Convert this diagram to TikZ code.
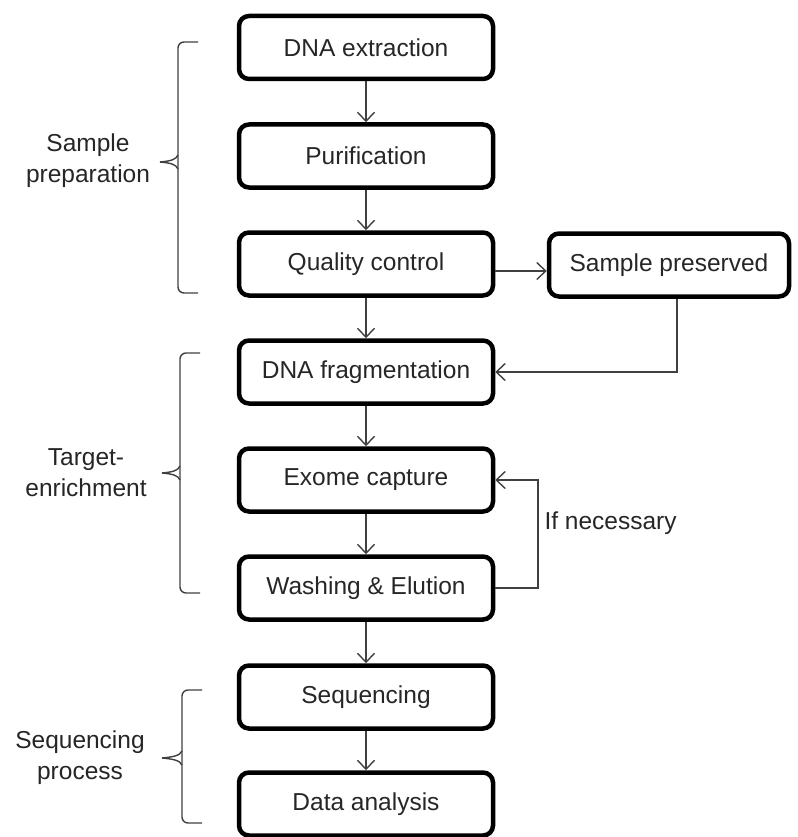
\documentclass[tikz,border=0pt]{standalone}
\usepackage{fontspec}
\setmainfont{Liberation Sans}
\usetikzlibrary{arrows.meta}
\begin{document}
\begin{tikzpicture}[x=1pt,y=-1pt,
  stepbox/.style={draw=black, line width=4.5pt, rounded corners=10pt, minimum width=254pt, minimum height=63pt, inner sep=0pt, font=\fontsize{24.5}{28}\selectfont, text=black!85},
  sidebox/.style={stepbox, minimum width=240pt},
  conn/.style={draw=black!75, line width=1.4pt, -{Straight Barb[length=9pt,width=17pt,line width=1.4pt]}},
  brk/.style={draw=black!75, line width=1.4pt, rounded corners=6pt},
  lbl/.style={align=center, font=\fontsize{24.5}{31}\selectfont, text=black!85}]
\useasboundingbox (0,0) rectangle (797,837);
\node[stepbox] (b1) at (366,47.5) {DNA extraction};
\node[stepbox] (b2) at (366,156) {Purification};
\node[stepbox] (b3) at (366,264) {Quality control};
\node[sidebox] (sp) at (669,265) {Sample preserved};
\node[stepbox] (b4) at (366,372) {DNA fragmentation};
\node[stepbox] (b5) at (366,480) {Exome capture};
\node[stepbox] (b6) at (366,588) {Washing \& Elution};
\node[stepbox] (b7) at (366,697) {Sequencing};
\node[stepbox] (b8) at (366,804) {Data analysis};

\draw[conn] (b1) -- (b2);
\draw[conn] (b2) -- (b3);
\draw[conn] (b3) -- (b4);
\draw[conn] (b4) -- (b5);
\draw[conn] (b5) -- (b6);
\draw[conn] (b6) -- (b7);
\draw[conn] (b7) -- (b8);
\draw[conn] (b3.east |- 0,271) -- (sp.west |- 0,271);
\draw[conn] (sp.south -| 677,0) -- (677,372) -- (b4.east);
\coordinate (lp) at (538,480);
\draw[conn] (b6.east) -- (lp |- b6.east) -- (lp) -- (b5.east);
\node[anchor=west, font=\fontsize{24.5}{28}\selectfont, text=black!85] (ifn) at (541,523) {If necessary};

% brackets
\draw[brk] (198,42) -- (178,42) -- (178,162);
\draw[brk] (178,162) -- (178,293) -- (198,293);
\draw[draw=black!75, line width=1.4pt] (160,162) .. controls (170,161) and (176,160) .. (178,155);
\draw[draw=black!75, line width=1.4pt] (160,162) .. controls (170,163) and (176,164) .. (178,169);
\node[lbl] (l1) at (88,161) {Sample\\preparation};

\draw[brk] (200,353) -- (180,353) -- (180,473);
\draw[brk] (180,473) -- (180,593) -- (200,593);
\draw[draw=black!75, line width=1.4pt] (162,473) .. controls (172,472) and (178,471) .. (180,466);
\draw[draw=black!75, line width=1.4pt] (162,473) .. controls (172,474) and (178,475) .. (180,480);
\node[lbl] (l2) at (86,473) {Target-\\enrichment};

\draw[brk] (202,690) -- (182,690) -- (182,758);
\draw[brk] (182,758) -- (182,823) -- (202,823);
\draw[draw=black!75, line width=1.4pt] (162,758) .. controls (172,757) and (180,756) .. (182,751);
\draw[draw=black!75, line width=1.4pt] (162,758) .. controls (172,759) and (180,760) .. (182,765);
\node[lbl] (l3) at (80,758) {Sequencing\\process};
\end{tikzpicture}
\end{document}
